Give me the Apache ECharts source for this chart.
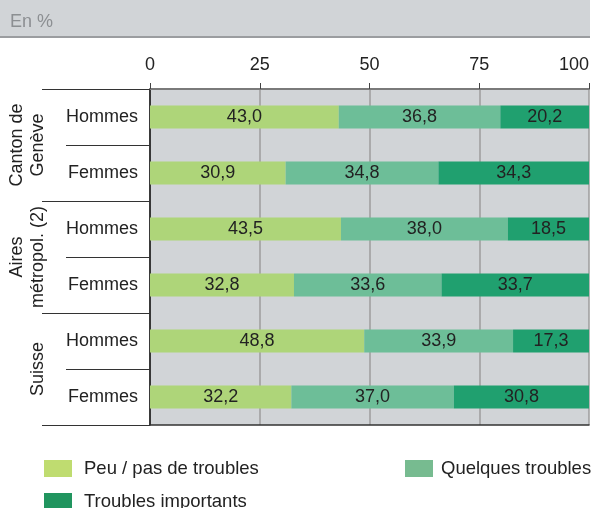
<!DOCTYPE html>
<html>
<head>
<meta charset="utf-8">
<script src="https://cdn.jsdelivr.net/npm/echarts@6/dist/echarts.min.js"></script>
<style>
html,body{margin:0;padding:0;background:#fff;}
#chart{width:600px;height:508px;}
</style>
</head>
<body>
<div id="chart"></div>
<script>
const categories = ['Hommes', 'Femmes', 'Hommes', 'Femmes', 'Hommes', 'Femmes'];
const groups = ['Canton de\nGenève', 'Aires\nmétropol. (2)', 'Suisse'];
const seriesNames = ['Peu / pas de troubles', 'Quelques troubles', 'Troubles importants'];
const peu = [43.0, 30.9, 43.5, 32.8, 48.8, 32.2];
const quelques = [36.8, 34.8, 38.0, 33.6, 33.9, 37.0];
const importants = [20.2, 34.3, 18.5, 33.7, 17.3, 30.8];
const xTicks = [0, 25, 50, 75, 100];

const FONT = '"Liberation Sans", Arial, Helvetica, sans-serif';
const barColors = ['#aed579', '#6dbe98', '#20a06f'];
const legendColors = ['#bfdc70', '#77bb90', '#21955f'];

const chart = echarts.init(document.getElementById('chart'), null, {renderer: 'canvas'});

function fmt(p) { return p.value.toFixed(1).replace('.', ','); }

function mkSeries(name, data, color) {
  return {
    name: name, type: 'bar', stack: 'total', data: data,
    barWidth: 23,
    itemStyle: {color: color},
    label: {show: true, position: 'inside', formatter: fmt, color: '#222', fontSize: 18, fontFamily: FONT},
    emphasis: {disabled: true},
    animation: false
  };
}

function mkLegend(i, left, top) {
  return {
    show: true, left: left, top: top, padding: 0,
    itemWidth: 28, itemHeight: 17, icon: 'rect',
    data: [{name: seriesNames[i], itemStyle: {color: legendColors[i]}}],
    textStyle: {fontSize: 18.5, color: '#222', fontFamily: FONT, padding: i === 1 ? [0,0,0,3] : [0,0,0,7]},
    selectedMode: false
  };
}

chart.setOption({
  animation: false,
  textStyle: {fontFamily: FONT},
  graphic: [
    {type: 'rect', shape: {x: 0, y: 0, width: 590, height: 37}, style: {fill: '#d1d4d7'}, z: -1},
    {type: 'line', shape: {x1: 0, y1: 37, x2: 590, y2: 37}, style: {stroke: '#9b9da0', lineWidth: 2}},
    {type: 'text', left: 10, top: 13, style: {text: 'En %', fontSize: 18, fill: '#8c8f92', fontFamily: FONT}}
  ],
  legend: [mkLegend(0, 44, 459), mkLegend(1, 405, 459), mkLegend(2, 44, 492)],
  grid: {left: 150, right: 11, top: 89, bottom: 83, show: true, backgroundColor: '#d1d4d7', borderWidth: 0,
    containLabel: false, outerBoundsMode: 'none'},
  xAxis: [{
    type: 'value', position: 'top', min: 0, max: 100, interval: 25,
    axisLine: {show: true, lineStyle: {color: '#7a7a7a', width: 2}},
    axisTick: {show: true, length: 6, lineStyle: {color: '#444', width: 1}},
    splitLine: {show: true, lineStyle: {color: '#9d9d9d', width: 1.5}},
    axisLabel: {fontSize: 18, color: '#222', margin: 15, fontFamily: FONT, hideOverlap: false,
      alignMaxLabel: 'right',
      formatter: function (v) { return xTicks.indexOf(v) >= 0 ? String(v) : ''; }}
  }, {
    type: 'value', position: 'bottom', min: 0, max: 100, interval: 25,
    axisLine: {show: true, lineStyle: {color: '#333', width: 1.5}},
    axisTick: {show: false}, axisLabel: {show: false}, splitLine: {show: false}
  }],
  yAxis: [{
    type: 'category', inverse: true, data: categories, position: 'left',
    axisLine: {show: true, lineStyle: {color: '#111', width: 1.5}},
    axisTick: {show: true, length: 84, lineStyle: {color: '#333', width: 1}},
    axisLabel: {fontSize: 18, color: '#222', margin: 12, fontFamily: FONT, interval: 0},
    splitLine: {show: false}
  }, {
    type: 'category', inverse: true, data: groups, position: 'left', offset: 0,
    axisLine: {show: false},
    axisTick: {show: true, length: 108, interval: 0, lineStyle: {color: '#333', width: 1}},
    axisLabel: {fontSize: 18, color: '#222', rotate: 90, align: 'center', verticalAlign: 'bottom',
      margin: 101, lineHeight: 21, fontFamily: FONT, interval: 0, hideOverlap: false},
    splitLine: {show: false}
  }],
  series: [
    mkSeries(seriesNames[0], peu, barColors[0]),
    mkSeries(seriesNames[1], quelques, barColors[1]),
    mkSeries(seriesNames[2], importants, barColors[2])
  ]
});
</script>
</body>
</html>
